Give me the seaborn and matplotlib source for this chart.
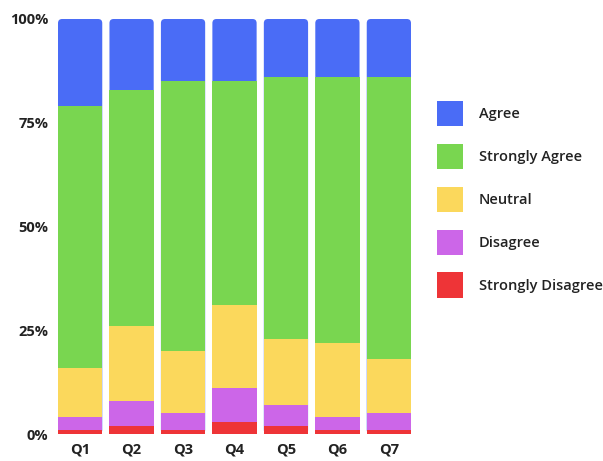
import matplotlib
matplotlib.use("Agg")
import matplotlib.pyplot as plt
from matplotlib.patches import Patch, FancyBboxPatch
import seaborn as sns
import pandas as pd
import numpy as np

questions = ["Q1", "Q2", "Q3", "Q4", "Q5", "Q6", "Q7"]
strongly_disagree = [1, 2, 1, 3, 2, 1, 1]
disagree = [3, 6, 4, 8, 5, 3, 4]
neutral = [12, 18, 15, 20, 16, 18, 13]
strongly_agree = [63, 57, 65, 54, 63, 64, 68]
agree = [21, 17, 15, 15, 14, 14, 14]

y_ticks = [0, 25, 50, 75, 100]
y_tick_labels = ["0%", "25%", "50%", "75%", "100%"]

series = [
    ("Strongly Disagree", strongly_disagree, "#EE3437"),
    ("Disagree", disagree, "#CC66E8"),
    ("Neutral", neutral, "#FBD85C"),
    ("Strongly Agree", strongly_agree, "#79D650"),
    ("Agree", agree, "#4A6CF6"),
]

sns.set_theme(style="white")
plt.rcParams["font.family"] = ["Open Sans", "DejaVu Sans"]

fig = plt.figure(figsize=(6.03, 4.61), dpi=100)
ax = fig.add_axes([58 / 603, 27 / 461, 353 / 603, 415 / 461])

# cumulative totals, drawn from the top layer down so lower layers overlay
cum = np.cumsum(np.array([s[1] for s in series]), axis=0)
for i in range(len(series) - 1, -1, -1):
    name, _, color = series[i]
    df = pd.DataFrame({"q": questions, "v": cum[i]})
    n_before = len(ax.patches)
    sns.barplot(data=df, x="q", y="v", color=color, width=0.86,
                saturation=1, linewidth=0, ax=ax, errorbar=None)
    if i == len(series) - 1:
        # round top corners of the full-height bars
        top_patches = list(ax.patches[n_before:])
        for p in top_patches:
            x, y, w, h = p.get_x(), p.get_y(), p.get_width(), p.get_height()
            p.remove()
            fb = FancyBboxPatch((x, y), w, h,
                                boxstyle="round,pad=0,rounding_size=0.08",
                                mutation_aspect=12.4, facecolor=color,
                                edgecolor="none", linewidth=0)
            ax.add_patch(fb)

ax.set_xlim(-0.43, 6.43)
ax.set_ylim(0, 100)
ax.set_yticks(y_ticks)
ax.set_yticklabels(y_tick_labels)
ax.set_xlabel("")
ax.set_ylabel("")
for s in ax.spines.values():
    s.set_visible(False)
ax.tick_params(axis="both", length=0, colors="#222222")
ax.tick_params(axis="y", pad=7)
ax.tick_params(axis="x", pad=6)
for lab in ax.get_xticklabels() + ax.get_yticklabels():
    lab.set_fontweight("bold")
    lab.set_fontsize(10.5)
    lab.set_color("#222222")

handles = [Patch(facecolor=c, edgecolor="none", label=n) for n, _, c in reversed(series)]
leg = fig.legend(handles=handles, loc="upper left",
                 bbox_to_anchor=(437 / 603, 1 - 101 / 461),
                 frameon=False, fontsize=10.5, handlelength=1.77,
                 handleheight=2.3, labelspacing=1.2, handletextpad=1.1,
                 borderaxespad=0, borderpad=0)
for t in leg.get_texts():
    t.set_fontweight("semibold")
    t.set_color("#222222")

fig.savefig("out.png", dpi=100)
